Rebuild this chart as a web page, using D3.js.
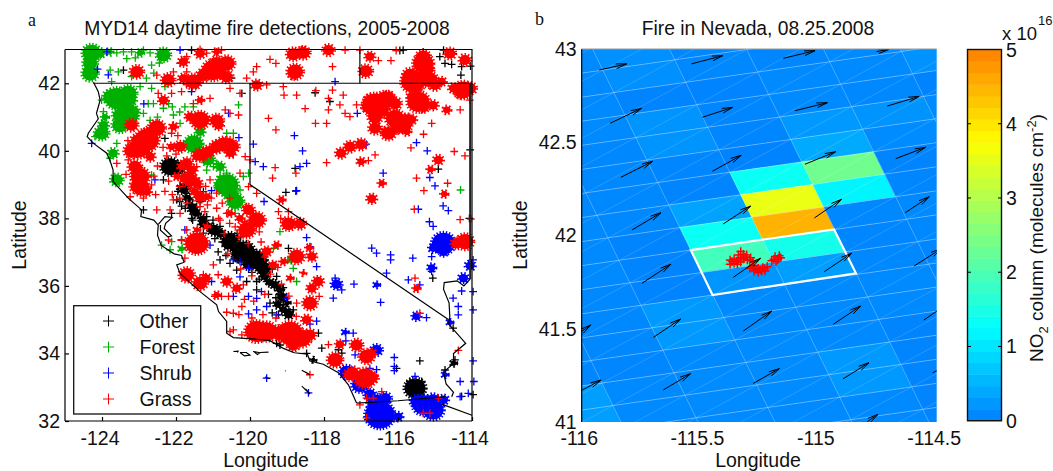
<!DOCTYPE html>
<html><head><meta charset="utf-8">
<script src="https://cdnjs.cloudflare.com/ajax/libs/d3/7.8.5/d3.min.js"></script>
<style>html,body{margin:0;padding:0;background:#fff}svg{display:block}text{font-family:"Liberation Sans",Arial,sans-serif;fill:#111}</style>
</head><body><svg id="c" width="1053" height="471"></svg>
<script>
// ---------- panel a : geography (lon, lat)
const coast=[[-124.23,42.03],[-124.1,41.75],[-124.05,41.5],[-124.15,41.11],[-124.1,40.95],[-124.37,40.52],[-124.4,40.42],[-124.23,40.22],[-123.87,39.93],[-123.78,39.7],[-123.7,39.43],[-123.7,39.09],[-123.29,38.6],[-122.93,38.25],[-122.95,38.05],[-122.6,37.95],[-122.48,37.8],[-122.5,37.5],[-122.4,37.2],[-122.05,36.95],[-121.85,36.9],[-121.78,36.7],[-121.98,36.62],[-121.89,36.37],[-121.35,35.83],[-120.9,35.44],[-120.85,35.24],[-120.63,34.95],[-120.63,34.6],[-120.45,34.47],[-119.82,34.42],[-119.46,34.38],[-119.1,34.15],[-118.8,34.02],[-118.45,33.98],[-118.38,33.78],[-118.02,33.68],[-117.61,33.43],[-117.34,33.07],[-117.25,32.85],[-117.12,32.53]];
const bay=[[-122.48,37.82],[-122.38,37.95],[-122.3,38.05],[-122.1,38.03],[-122.28,37.85],[-122.32,37.7],[-122.12,37.48],[-122.22,37.45],[-122.42,37.65],[-122.42,37.8]];
const borderCA_OR=[[-124.23,42.0],[-114.0,42.0]];
const borderNV_ID=[[-117.03,43],[-117.03,42]];
const borderNV_CA=[[-120,42],[-120,39],[-114.63,35.0]];
const borderNV_UT=[[-114.05,42],[-114.05,36.2]];
const colorado=[[-114.05,36.2],[-114.22,36.0],[-114.4,36.15],[-114.75,36.1],[-114.77,35.9],[-114.62,35.5],[-114.6,35.1],[-114.63,34.87],[-114.17,34.3],[-114.5,34.0],[-114.5,33.7],[-114.77,33.45],[-114.7,33.1],[-114.5,32.85],[-114.55,32.72]];
const borderMexico=[[-117.12,32.53],[-116,32.6],[-114.72,32.72]];
const borderAZ=[[-114.82,32.5],[-114,32.17]];
const islands=[[[-120.45,34.06],[-120.32,34.07],[-120.34,34.03]],[[-120.27,34.03],[-120.1,34.03],[-120,33.95],[-120.15,33.93],[-120.27,34.03]],[[-119.91,34.06],[-119.73,34.02],[-119.8,33.97],[-119.91,34.06]],[[-119.73,34.03],[-119.5,34.04]],[[-119.6,33.3],[-119.46,33.25]],[[-118.6,33.5],[-118.38,33.37],[-118.5,33.45]],[[-118.6,33.03],[-118.38,32.8],[-118.5,32.95]],[[-119.05,33.49],[-119.03,33.48]]];
// ---------- panel a : densely burned clusters [lon, lat, radius in degrees]
const blobOther=[[-115.54,32.97,.23],[-122.16,39.53,.2],[-121.94,39.48,.15],[-121.8,38.89,.12],[-121.53,38.25,.1],[-121.26,37.85,.1],[-120.99,37.66,.12],[-120.18,37,.25],[-119.82,36.77,.22],[-120.54,37.36,.17],[-119.64,36.52,.15],[-119.14,35.68,.1],[-118.96,35.16,.1],[-119.32,36.03,.09],[-114.5,33.71,.06],[-118.29,33.81,.05],[-121.7,38.6,.08],[-121.6,38.4,.07],[-121.45,38.15,.08],[-121.3,38,.07],[-121.1,37.75,.08],[-120.8,37.55,.1],[-120.6,37.2,.1],[-120.4,37.15,.12],[-120.35,36.85,.1],[-120.05,36.65,.12],[-119.6,36.3,.1],[-119.45,36.1,.08],[-119.2,35.9,.08],[-119.25,35.45,.08],[-119.1,35.3,.08],[-119,35.5,.06]];
const blobForest=[[-123.6,41.55,.25],[-123.29,41.7,.18],[-123.33,41.06,.25],[-123.51,40.76,.17],[-124.28,42.89,.2],[-124.32,42.29,.17],[-124.32,42.59,.15],[-124.05,42.89,.1],[-123.8,42.93,.07],[-123.96,40.76,.1],[-123.92,41,.07],[-124.01,40.52,.15],[-121.53,40.2,.2],[-121.35,40.57,.1],[-120.63,38.99,.25],[-120.4,38.5,.18],[-122.34,42.84,.15],[-122.97,42.9,.07],[-123.7,39.93,.1],[-123.6,39.14,.13],[-121.85,37.1,.06],[-118.92,36.77,.07],[-121.13,39.73,.13],[-120.81,39.53,.1],[-123.78,41.6,.15],[-123.42,41.5,.15],[-123.2,41.5,.1],[-123.56,41.06,.12],[-123.15,41.16,.12],[-120.54,38.74,.15],[-120.81,38.94,.1]];
const blobShrub=[[-116.49,32.18,.32],[-116.58,32.53,.2],[-116.35,32.67,.13],[-116.76,32.78,.12],[-115.32,32.48,.23],[-115.05,32.33,.23],[-115.05,32.63,.13],[-115.5,32.58,.13],[-114.77,32.63,.1],[-114.77,37.26,.25],[-114.77,37.02,.1],[-115.05,37.12,.09],[-114.23,36.23,.1],[-114.05,36.6,.1],[-116.58,34.1,.12],[-117.66,36.05,.11],[-116.58,36.03,.06],[-115.5,35.1,.09],[-114.6,34.92,.06],[-117.43,34.63,.06],[-117.39,33.45,.15],[-117.03,33.07,.17],[-114.73,33.37,.06],[-115.09,36.54,.08],[-115.99,32.13,.09]];
const blobGrass=[[-122.52,40.67,.18],[-122.79,40.32,.26],[-123.02,40.07,.22],[-121.35,40.91,.2],[-120.9,40.9,.14],[-121.35,39.88,.14],[-120.9,40.12,.14],[-120.58,40.17,.17],[-121.89,40.12,.12],[-122.97,39.24,.2],[-122.93,38.89,.17],[-120.99,42.39,.24],[-120.63,42.59,.17],[-121.53,42.05,.17],[-121.26,42.24,.14],[-122.21,42.1,.14],[-123.06,42.34,.14],[-122.34,41.5,.1],[-122.07,40.71,.08],[-121.62,39.14,.16],[-121.71,39.63,.12],[-121.35,38.64,.12],[-119.82,37.95,.18],[-120.04,38.25,.12],[-120.09,37.66,.18],[-118.83,42.86,.14],[-118.56,42.9,.14],[-117.88,42.98,.12],[-118.78,42.34,.17],[-116.87,42.36,.14],[-116.76,42.79,.1],[-115.32,42.59,.22],[-115.59,42.05,.26],[-115.14,42.1,.17],[-114.24,41.8,.2],[-114.5,41.85,.1],[-114.19,42.69,.12],[-114.6,42.88,.12],[-115.45,41.45,.24],[-115.05,41.35,.1],[-116.62,41.36,.27],[-116.35,41.5,.2],[-116.62,41,.15],[-116.08,41.4,.13],[-116.08,40.96,.2],[-115.86,40.76,.18],[-116.26,40.52,.15],[-116.62,40.67,.13],[-115.63,40.93,.1],[-114.68,41.21,.08],[-117,40.19,.12],[-117.3,40.12,.12],[-117.54,39.93,.11],[-117,39.68,.08],[-114.91,39.73,.1],[-115.12,39.45,.07],[-116.44,39.04,.07],[-116.71,38.58,.1],[-118.96,37.84,.15],[-118.65,37.84,.12],[-119.15,38.55,.07],[-114.75,38.72,.07],[-118.74,36.87,.16],[-118.33,36.87,.1],[-118.16,36.13,.11],[-118.33,35.93,.1],[-118.38,35.49,.15],[-118.47,35,.1],[-118.92,34.6,.27],[-119.55,34.65,.22],[-118.6,34.45,.2],[-118.38,34.55,.12],[-117.7,33.81,.16],[-117.57,34.27,.09],[-117.12,34.25,.13],[-116.85,33.91,.16],[-117.3,33.37,.13],[-116.89,33.27,.23],[-114.19,37.31,.18],[-114.41,37.26,.12],[-115.5,35.93,.07],[-121.44,37.26,.25],[-121.71,36.33,.16],[-121.35,36.08,.15],[-119.82,34.65,.25],[-120.63,36.13,.1],[-120.36,35.93,.09],
[-123.2,40.76,.13],[-123.2,40,.16],[-122.7,39.83,.1],[-123.11,39.53,.14],[-123.06,38.94,.14],[-122.79,38.79,.09],[-122.12,40.12,.08],[-121.62,41.01,.1],[-120.85,40.76,.1],[-121.13,39.97,.13],[-121.44,39.83,.09],[-120.72,40.22,.14],[-120.45,40.12,.12],[-120.54,39.93,.09],[-121.85,39.53,.08],[-121.58,39.43,.11],[-121.76,39.19,.12],[-121.44,39.04,.11],[-121.98,39.24,.07],[-121.49,38.79,.09],[-121.17,38.64,.08],[-120.27,38,.08],[-120.54,38.15,.07],[-121.17,37.76,.06],[-121.44,37.66,.06],[-121.8,42.64,.1],[-120.63,42.19,.13],[-120.9,42.59,.15],[-121.35,42.88,.1],[-120.9,42.93,.07],[-121.8,42.14,.1],[-119.82,41.95,.11],[-121.35,41.5,.07],[-120.9,35.73,.07],[-121.17,36.23,.08],[-119.55,37.02,.1],[-119.28,37.21,.07],[-119.37,36.62,.08],[-119.1,36.72,.07],[-118.92,36.23,.06],[-118.56,36.38,.05],[-118.4,37.13,.07],[-119.19,34.6,.17],[-118.83,34.25,.13],[-117.21,33.47,.1],[-116.67,33.27,.1],[-116.71,34,.09],
[-115.32,42.78,.15],[-115.23,42.39,.15],[-115.68,42.24,.15],[-115.5,41.95,.13],[-115,41.95,.12],[-114.82,42.05,.09],[-114.05,41.85,.13],[-114.32,41.7,.1],[-115.63,41.6,.1],[-115.32,41.3,.12],[-116.26,41.6,.12],[-116.76,41.5,.12],[-116.85,41.3,.1],[-116.4,41.16,.12],[-115.76,40.96,.1],[-116.04,40.67,.12],[-115.76,40.57,.08],[-116.35,40.57,.08],[-118.56,42.93,.1],[-118.83,42.24,.08],[-122.7,40.52,.15],[-122.88,40.07,.15],[-123.06,40.32,.12]];
// ---------- panel a : individual detections [lon, lat]
const firesOther=[[-118.24,41.72],[-118.78,39.48],[-119.03,38.77],[-118.76,38.81],[-114.91,39.46],[-115.95,42.97],[-115.86,42.98],[-115.32,42.93],[-114.87,42.79],[-114.73,42.59],[-114.55,42.56],[-114.28,42.49],[-114.04,42.51],[-114.3,42.24],[-114.05,40.03],[-114.77,42.98],[-114.51,42.88],[-114.07,38],[-117.84,41.46],[-122.3,40.37],[-121.8,42.1],[-121.44,41.95],[-120.22,41.7],[-120.5,42.15],[-121.58,42.98],[-123.42,42.39],[-122.88,38.25],[-122.12,38.15],[-121.98,38.55],[-121.85,38.36],[-121.35,38.94],[-121.26,38.79],[-121.62,38.55],[-121.44,38.35],[-121.58,38],[-121.17,38.05],[-120.81,37.76],[-121.71,38.74],[-122.34,39.14],[-121.26,37.56],[-121.85,37.36],[-120.86,37.01],[-120.81,36.77],[-120.54,36.67],[-120.36,36.47],[-120.09,36.13],[-119.82,36.13],[-119.82,35.88],[-118.96,37.11],[-119.55,36.13],[-119.28,36.28],[-119.46,35.49],[-119.1,35.44],[-119.23,35.14],[-118.83,35.29],[-118.15,34.6],[-118.06,34.16],[-118.47,34],[-117.61,34.11],[-117.52,34.01],[-116.04,33.56],[-115.41,33.78],[-115.06,36.23],[-114.51,34.75],[-114.73,33.51],[-114.46,33.81],[-113.97,32.78],[-114.28,32.73],[-115.68,33.17],[-115.36,33.17],[-119.28,34.3],[-119.19,34.25],
[-121.95,38.8],[-121.9,38.5],[-121.75,38.3],[-121.35,38.5],[-121.55,37.95],[-121,37.95],[-120.95,37.4],[-120.75,37.3],[-120.25,37.45],[-120.65,36.9],[-120.1,36.95],[-119.95,36.4],[-119.75,36.2],[-119.4,36.5],[-119.1,35.95],[-119.5,35.75],[-119.3,35.65],[-118.95,35.3],[-119.4,35.2],[-120.35,37.55]];
const firesForest=[[-123.42,42.93],[-123.2,42.93],[-122.88,42.98],[-123.33,42.73],[-122.66,42.54],[-123.78,42.39],[-123.56,42.34],[-123.74,42.05],[-122.8,42.15],[-122.97,41.9],[-122.66,41.85],[-122.75,41.4],[-122.34,41.26],[-122.07,41.06],[-121.76,41.3],[-121.53,41.3],[-121.89,40.81],[-122.88,41.11],[-122.61,41.4],[-124.01,41.5],[-123.96,41.16],[-124.19,40.42],[-123.78,39.78],[-122.66,39.29],[-123.6,40.22],[-121.17,39.43],[-120.9,39.63],[-120.99,39.53],[-120.63,39.34],[-120.45,40.52],[-120.63,40.52],[-120.31,41.36],[-120.18,39.24],[-120.04,39.34],[-121.26,40.03],[-120.27,38.84],[-120.4,38.15],[-120.81,39.24],[-122.39,37.21],[-122.12,37.31],[-122.16,37.07],[-114.31,38.84],[-118.74,36.13],[-118.83,36.52],[-119.37,37.11],[-119.19,37.61],[-123.6,42.9],[-123.1,42.75],[-122.7,42.9],[-122.45,42.6],[-123.2,42.2],[-122.6,42.3],[-122.3,41.9],[-122.2,41.4],[-122.5,41],[-122.1,41.3],[-121.9,41.15],[-122.7,40.9]];
const firesShrub=[[-116.71,37.12],[-116.58,36.97],[-116.2,36.92],[-116.2,36.77],[-115.6,36.82],[-116.31,36.38],[-115.72,36.18],[-115.41,36.03],[-115.09,36.87],[-115.09,36.43],[-117.19,36.05],[-117.75,35.64],[-116.47,35.51],[-115.23,35.06],[-114.51,35.64],[-114.37,35.39],[-114.37,35.14],[-113.97,35.29],[-113.97,35.83],[-114.28,35.85],[-113.97,36.77],[-113.97,33.78],[-113.95,33.17],[-114.32,33.17],[-116.1,33.88],[-116.1,33.62],[-116.1,33.49],[-116.58,33.52],[-116.76,33.56],[-117.21,34.6],[-117.41,34.37],[-117.16,33.96],[-118.2,36.57],[-118.47,37.43],[-118.38,37.16],[-118.2,34.96],[-118.38,34.87],[-119.55,33.27],[-118.42,32.83],[-116.04,32.09],[-115.54,33.32],[-114.1,32.82],[-114.32,32.72],[-117.7,36.23],[-117.52,35.88],[-119.55,35.39],[-119.69,35.83],[-119.28,35.14],[-119.01,35.64],[-118.8,40.45],[-118.58,40],[-116.86,40.2],[-116.4,39.34],[-115.5,40.24],[-115.21,40],[-115.14,39.21],[-115,38.96],[-114.78,38.37],[-114.64,38.23],[-115.15,37.9],[-115.05,37.76],[-118.65,39.53],[-118.47,39.63],[-118.74,38.82],[-119.64,39.53],[-119.62,38.5],[-115.45,38.27],[-117.1,41.11],[-117.7,42.05],[-123.83,42.25],[-124.12,42.42],[-122.87,41.39],[-124.28,40.22],[-121.58,41.75],[-120.58,41.11],[-120.3,40.39],[-119.91,40.2],[-119.86,39.68],[-121.04,38.82],[-122.57,39.14],[-121.76,37.66],[-123.87,42.93],[-121.89,42.98],[-121.08,37.21],[-120.45,36.77],[-120.27,36.72],[-120.04,36.52],[-121.04,36.13],[-120.04,35.69],[-119.82,35.63],[-119.82,35.29],[-120.04,35.17],[-120.45,35.69],[-120.27,36.27]];
const firesGrass=[[-120.27,41.7],[-120.54,41.85],[-120.54,41.11],[-120.31,41.06],[-121.08,41.55],[-121.31,41.5],[-120.67,41.21],[-122.48,41.7],[-122.12,41.7],[-121.85,41.75],[-121.53,41.4],[-121.71,41.95],[-122.07,40.77],[-122.12,40.52],[-123.29,39.73],[-123.6,39.63],[-122.66,38.99],[-122.88,38.6],[-123.24,38.64],[-122.52,38.25],[-122.16,38.25],[-121.89,38.15],[-121.22,38.2],[-120.9,38.3],[-120.63,38.15],[-120.81,37.95],[-121.35,38.35],[-121.71,37.66],[-121.08,39.14],[-121.44,39.53],[-121.26,39.73],[-122.07,38.55],[-119.82,38.74],[-119.91,38.15],[-120.09,38.35],[-120,39.73],[-120.13,39.83],[-120.45,39.88],[-120.27,39.34],[-120.04,38.94],[-120.77,42.98],[-121.35,43],[-121.17,42.89],[-120.9,42.93],[-121.71,42.79],[-121.89,42.59],[-122.07,42.34],[-121.71,42.34],[-119.91,42.34],[-119.82,42.49],[-120.09,42.15],[-122.52,42.24],[-119.46,42.71],[-119.3,42.59],[-116.53,42.67],[-116.19,42.67],[-116.05,42.97],[-117.77,42.49],[-117.43,42.98],[-117.03,42.98],[-119.1,41.9],[-119.55,41.95],[-119.08,41.65],[-118.74,41.65],[-118.51,41.25],[-118.22,41.78],[-117.88,41.55],[-117.77,41.8],[-117.57,41.36],[-117.43,41.11],[-117.3,41.01],[-117.48,41.65],[-117.12,41.36],[-117.88,41.21],[-117.93,40.81],[-118.23,40.81],[-119.5,40.96],[-119.3,40.62],[-117.93,39.65],[-119.32,39.5],[-119.39,39.19],[-118.76,39.34],[-116.62,39.88],[-116.8,39.71],[-115.31,40.49],[-115.09,40.81],[-115.65,40.09],[-114.48,39.98],[-114.19,39.85],[-114.32,41.21],[-114.06,41.5],[-115.5,39.19],[-114.66,39.04],[-115.3,38.82],[-115.56,38.27],[-114.32,37.96],[-114.03,37.98],[-119.23,38.2],[-118.96,38.2],[-119.17,38],[-115.54,36.23],[-115.41,35.19],[-114.37,34.09],[-116.62,33.32],[-116.85,32.68],[-116.67,32.68],[-116.85,32.09],[-117.03,32.48],[-116.44,32.87],[-115.32,32.23],[-115.14,32.23],[-114.91,32.68],[-118.38,33.37],[-117.88,34.26],[-118.74,35.49],[-118.13,35.69],[-120.45,35.19],[-120.63,35.22],[-120.45,34.7],[-120.22,35.39],[-120.22,34.55],[-120.54,34.65],[-120.86,36.33],[-120.95,35.69],[-120.77,35.69],[-120.58,35.69],[-120.99,36.62],[-121.76,36.82],[-122.2,37.36],[-121.85,37.36],[-121.26,37.16],[-121.26,36.33],[-120.18,36.03],
[-122.2,39.1],[-122.3,38.8],[-122.1,38.7],[-121.9,38.6],[-121.7,38.45],[-121.9,38.95],[-121.6,38.9],[-121.2,38.95],[-121.05,38.6],[-120.9,38.75],[-120.75,38.45],[-120.55,38.6],[-121.15,38.4],[-120.85,38],[-120.55,37.85],[-120.4,37.75],[-120.7,37.55],[-120.3,37.45],[-120.15,37.9],[-119.75,37.6],[-119.7,37.3],[-120.05,37.25],[-120.6,36.95],[-120.25,36.5],[-119.95,36.3],[-119.6,36.85],[-119.45,36.35],[-119.25,36.55],[-119.15,36.05],[-118.95,35.7],[-119.6,35.75],[-119.9,35.55],[-120.15,35.6],[-120.3,35.15],[-119.95,35.05],[-119.65,35.15],[-119.3,35.05],[-118.75,35.1],[-121.95,40.45],[-122.25,39.85],[-122,39.9],[-122.5,39.55],[-122.6,39.25],[-122.55,38.7],[-123.35,39.3],[-123.3,40.3],[-122.35,40.1]];
const legendNames=["Other","Forest","Shrub","Grass"];
const legendColors=["#000","#00b000","#0000ff","#ff0000"];
// ---------- panel b
const no2Cols=[-3,-2,-1,0,1,2,3,4,5];
const no2Rows=[-9,-8,-7,-6,-5,-4,-3,-2,-1,0,1,2,3,4,5,6,7,8];
const no2Values=[
[.08,.08,.1,.16,.08,.06,.1,.22,.22],
[.08,.08,.1,.16,.08,.06,.1,.22,.22],
[.1,.1,.1,.04,.04,.1,.1,.18,.2],
[.1,.1,.1,.2,.06,.1,.08,.03,.03],
[.1,.1,.08,.2,.06,.25,.2,.1,.1],
[.1,.08,.08,.06,.03,.42,.12,.08,.1],
[.08,.08,.08,.05,1.35,2.35,.05,.08,.1],
[.1,.1,.08,.35,3.55,1.15,.06,.1,.1],
[.1,.1,.05,1.35,4.5,.08,.1,.1,.1],
[.1,.1,.05,1.9,1.45,.06,.08,.1,.1],
[.1,.08,.04,.22,.3,.08,.06,.1,.1],
[.1,.08,.25,.1,.1,.1,.06,.1,.1],
[.1,.08,.25,.1,.1,.1,.06,.1,.1],
[.06,.06,.1,.12,.1,.05,.05,.1,.1],
[.3,.1,.12,.12,.25,.05,.05,.1,.1],
[.3,.1,.12,.12,.25,.05,.05,.1,.1],
[.1,.08,.1,.1,.1,.05,.05,.1,.1],
[.1,.08,.1,.1,.1,.05,.05,.1,.1]];
const gridOrigin=[-115.539,41.922], gridU=[.304,.0552], gridV=[.0465,-.1206];
const plumeBox=[[-115.539,41.922],[-114.934,42.033],[-114.841,41.797],[-115.447,41.681]];
const windArrows=[[-115.926,42.887,-115.81,42.92],[-115.537,42.92,-115.404,42.964],[-115.148,42.95,-115.014,42.991],[-114.754,42.986,-114.702,42.998],[-115.88,42.602,-115.747,42.682],[-115.49,42.634,-115.362,42.687],[-115.099,42.669,-114.962,42.712],[-114.709,42.694,-114.574,42.746],[-115.834,42.312,-115.7,42.398],[-115.448,42.344,-115.326,42.43],[-115.057,42.382,-114.927,42.449],[-114.673,42.412,-114.547,42.473],[-115.787,42.03,-115.665,42.122],[-115.402,42.062,-115.286,42.158],[-115.017,42.094,-114.902,42.194],[-114.633,42.122,-114.531,42.208],[-115.745,41.744,-115.623,41.846],[-115.359,41.776,-115.244,41.878],[-114.975,41.806,-114.859,41.905],[-114.596,41.836,-114.48,41.93],[-116.045,41.445,-115.962,41.52],[-115.697,41.454,-115.582,41.552],[-115.317,41.488,-115.197,41.595],[-114.937,41.524,-114.821,41.622],[-114.554,41.547,-114.444,41.643],[-116.037,41.145,-115.918,41.225],[-115.655,41.172,-115.54,41.259],[-115.275,41.207,-115.165,41.286],[-114.896,41.231,-114.786,41.318],[-114.517,41.264,-114.411,41.332],[-114.793,41.002,-114.748,41.041]];
const nevadaFires=[[-115.373,41.869],[-115.373,41.846],[-115.356,41.874],[-115.356,41.851],[-115.338,41.896],[-115.328,41.914],[-115.338,41.869],[-115.317,41.899],[-115.317,41.874],[-115.303,41.896],[-115.3,41.869],[-115.286,41.881],[-115.277,41.86],[-115.289,41.824],[-115.272,41.839],[-115.272,41.81],[-115.254,41.824],[-115.254,41.803],[-115.235,41.828],[-115.225,41.81],[-115.216,41.833],[-115.197,41.864],[-115.183,41.887],[-115.169,41.878],[-115.179,41.86],[-115.159,41.881],[-115.342,41.846],[-115.239,41.81],
[-115.365,41.86],[-115.347,41.862],[-115.328,41.882],[-115.328,41.858],[-115.31,41.885],[-115.29,41.868],[-115.28,41.835],[-115.263,41.818],[-115.245,41.815],[-115.228,41.822],[-115.172,41.87],[-115.188,41.872],[-115.165,41.892]];
// ---------- ticks and labels
const lonTicksA=[-124,-122,-120,-118,-116,-114], latTicksA=[32,34,36,38,40,42];
const lonTicksB=[-116,-115.5,-115,-114.5], latTicksB=[41,41.5,42,42.5,43];
const cbTicks=[0,1,2,3,4,5];
const fs=19.5;
const clusterScale=1.25;
const svg=d3.select("#c");
const defs=svg.append("defs");
// scales
const xA=d3.scaleLinear().domain([-125,-114]).range([65,472]);
const yA=d3.scaleLinear().domain([32,43]).range([421,49.5]);
const xB=d3.scaleLinear().domain([-116,-114.5]).range([581.7,936.7]);
const yB=d3.scaleLinear().domain([41,43]).range([422,49]);
const color=d3.scaleLinear().domain([0,1.25,3.75,5]).range(["#0080ff","#00ffff","#ffff00","#ff8000"]).clamp(true);
const yC=d3.scaleLinear().domain([0,5]).range([420.7,49.5]);
const line=(x,y)=>d3.line().x(d=>x(d[0])).y(d=>y(d[1]));
const crossPath=(cx,cy,h)=>`M${cx-h},${cy}H${cx+h}M${cx},${cy-h}V${cy+h}`;
// ---- Panel A
const pa=svg.append("g");
const lA=line(xA,yA);
const layers=[[blobOther,firesOther,legendColors[0]],[blobForest,firesForest,legendColors[1]],[blobShrub,firesShrub,legendColors[2]],[blobGrass,firesGrass,legendColors[3]]];
const rxOf=d=>clusterScale*(xA(d[0]+d[2])-xA(d[0])), ryOf=d=>clusterScale*(yA(d[1])-yA(d[1]+d[2]));
layers.forEach(([bl,fr,col])=>{
  const g=pa.append("g");
  g.selectAll("ellipse").data(bl).join("ellipse")
    .attr("cx",d=>xA(d[0])).attr("cy",d=>yA(d[1]))
    .attr("rx",rxOf).attr("ry",ryOf).attr("fill",col)
    .attr("stroke",col).attr("stroke-width",4).attr("stroke-dasharray","1.3 1.7");
  g.selectAll("path.f").data(fr).join("path").attr("class","f").attr("fill","none").attr("stroke",col).attr("stroke-width",1.3)
    .attr("d",d=>crossPath(xA(d[0]),yA(d[1]),3.9));
});
const borders=pa.append("g").attr("fill","none").attr("stroke","#000").attr("stroke-width",1.2);
[coast,bay,borderCA_OR,borderNV_ID,borderNV_CA,colorado,borderMexico,borderAZ].forEach(s=>borders.append("path").attr("d",lA(s)));
pa.append("path").attr("d",lA(borderNV_UT)).attr("fill","none").attr("stroke","#222").attr("stroke-width",2);
islands.forEach(s=>borders.append("path").attr("d",lA(s)).attr("stroke-width",1.1));
// frame + axes A
const axisStyle=(g)=>{g.selectAll("text").style("font-size",fs+"px").style("font-family",'"Liberation Sans",Arial,sans-serif').attr("fill","#111");g.selectAll("path,line").attr("stroke","#000").attr("stroke-width",1.2);};
const plain=d=>String(d);
pa.append("g").attr("transform","translate(0,421)").call(d3.axisBottom(xA).tickValues(lonTicksA).tickSize(-4).tickPadding(10).tickFormat(plain)).call(axisStyle).call(g=>g.selectAll("text").attr("dx",-2.5)).select(".domain").attr("d","M65,0H472");
pa.append("g").attr("transform","translate(65,0)").call(d3.axisLeft(yA).tickValues(latTicksA).tickSize(-4).tickPadding(5).tickFormat(plain)).call(axisStyle).select(".domain").attr("d","M0,49.5V421");
pa.append("path").attr("d","M65,49.5H472V421").attr("fill","none").attr("stroke","#000").attr("stroke-width",1.2);
// legend
const lg=pa.append("g");
lg.append("rect").attr("x",73.7).attr("y",305.7).attr("width",127).attr("height",108.3).attr("fill","#fff").attr("stroke","#111").attr("stroke-width",1.3);
const legendY=d3.scalePoint().domain(legendNames).range([321,399]);
legendNames.forEach((n,i)=>{
  lg.append("path").attr("d",crossPath(108.5,legendY(n),5.5)).attr("stroke",legendColors[i]).attr("stroke-width",1).attr("fill","none");
  lg.append("text").attr("x",139.5).attr("y",legendY(n)+6.5).style("font-size",fs+"px").text(n);
});
const txt=(x,y,s,size,anchor,extra)=>{const t=svg.append("text").attr("x",x).attr("y",y).attr("text-anchor",anchor||"middle").style("font-size",(size||fs)+"px").text(s);if(extra)extra(t);return t;};
txt(267,35,"MYD14 daytime fire detections, 2005-2008",19.3);
txt(758,35,"Fire in Nevada, 08.25.2008",19.3);
txt(266,467,"Longitude");
txt(758,467,"Longitude");
svg.append("text").attr("transform","translate(26,235) rotate(-90)").attr("text-anchor","middle").style("font-size",fs+"px").text("Latitude");
svg.append("text").attr("transform","translate(527,235) rotate(-90)").attr("text-anchor","middle").style("font-size",fs+"px").text("Latitude");
txt(28,26,"a",18,"start",t=>t.style("font-family","'Liberation Serif',serif"));
txt(535,25,"b",18,"start",t=>t.style("font-family","'Liberation Serif',serif"));
// ---- Panel B
defs.append("clipPath").attr("id","bClip").append("rect").attr("x",581.7).attr("y",49).attr("width",355).attr("height",373);
const pb=svg.append("g").attr("clip-path","url(#bClip)");
const gp=(i,j)=>[gridOrigin[0]+i*gridU[0]+j*gridV[0],gridOrigin[1]+i*gridU[1]+j*gridV[1]];
const lB=line(xB,yB);
const cells=[];
no2Rows.forEach((j,r)=>no2Cols.forEach((i,c)=>cells.push({i,j,v:no2Values[r][c]})));
pb.selectAll("path.cell").data(cells).join("path").attr("class","cell")
  .attr("d",d=>lB([gp(d.i,d.j),gp(d.i+1,d.j),gp(d.i+1,d.j+1),gp(d.i,d.j+1)])+"Z")
  .attr("fill",d=>color(d.v)).attr("stroke",d=>color(d.v)).attr("stroke-width",.4);
const gl=pb.append("g").attr("fill","none").attr("stroke","#fff");
no2Rows.concat([9]).forEach(j=>gl.append("path").attr("d",lB([gp(-3,j),gp(6,j)])).attr("stroke-opacity",.35).attr("stroke-width",.9));
no2Cols.concat([6]).forEach(i=>gl.append("path").attr("d",lB([gp(i,-9),gp(i,9)])).attr("stroke-opacity",.3).attr("stroke-width",.7));
cells.forEach(c=>gl.append("path").attr("d",lB([gp(c.i,c.j+1),gp(c.i+1,c.j)])).attr("stroke-opacity",.22).attr("stroke-width",.7));
pb.append("path").attr("d",lB(plumeBox)+"Z").attr("fill","none").attr("stroke","#fff").attr("stroke-width",2.2);
pb.append("g").attr("fill","none").attr("stroke","#ff0000").attr("stroke-width",1.5).selectAll("path").data(nevadaFires).join("path").attr("d",d=>crossPath(xB(d[0]),yB(d[1]),4.3));
pb.append("g").attr("fill","none").attr("stroke","#000").attr("stroke-width",1).selectAll("path").data(windArrows).join("path").attr("d",d=>{
  const x0=xB(d[0]),y0=yB(d[1]),x1=xB(d[2]),y1=yB(d[3]),a=Math.atan2(y1-y0,x1-x0),L=11,s=.22;
  return `M${x0},${y0}L${x1},${y1}M${x1-L*Math.cos(a-s)},${y1-L*Math.sin(a-s)}L${x1},${y1}L${x1-L*Math.cos(a+s)},${y1-L*Math.sin(a+s)}`;});
// axes B
svg.append("g").attr("transform","translate(0,422)").call(d3.axisBottom(xB).tickValues(lonTicksB).tickSize(0).tickPadding(9).tickFormat(plain)).call(axisStyle).call(g=>g.selectAll("text").attr("dx",-3)).select(".domain").remove();
svg.append("g").attr("transform","translate(581.7,0)").call(d3.axisLeft(yB).tickValues(latTicksB).tickSize(0).tickPadding(5).tickFormat(plain)).call(axisStyle).select(".domain").attr("d","M0,49V422");
svg.append("path").attr("d","M581.7,49H936.7").attr("stroke","#999").attr("stroke-width",1);
// ---- Colorbar
const cbx=967.5,cbw=34;
const bands=d3.range(0,5,5/32);
svg.selectAll("rect.band").data(bands).join("rect").attr("class","band").attr("x",cbx).attr("width",cbw)
  .attr("y",d=>yC(d+5/32)).attr("height",d=>yC(d)-yC(d+5/32)+.5).attr("fill",d=>color(d+2.5/32));
svg.append("rect").attr("x",cbx).attr("y",49.5).attr("width",cbw).attr("height",371.2).attr("fill","none").attr("stroke","#111").attr("stroke-width",1.4);
const cb=svg.append("g");
cb.selectAll("path").data(cbTicks.slice(1,5)).join("path").attr("d",d=>`M${cbx},${yC(d)}h3.5M${cbx+cbw},${yC(d)}h-3.5`).attr("stroke","#000").attr("stroke-width",1);
cbTicks.forEach(d=>txt(1006,yC(d)+7,d,fs,"start"));
txt(1002,40,"x 10",18.5,"start");
txt(1038,25,"16",13,"start");
const yl=svg.append("text").attr("transform","translate(1043,238) rotate(-90)").attr("text-anchor","middle").style("font-size",fs-.5+"px");
yl.append("tspan").text("NO");
yl.append("tspan").attr("dy",5).style("font-size","13px").text("2");
yl.append("tspan").attr("dy",-5).text(" column (molecules cm");
yl.append("tspan").attr("dy",-7).style("font-size","13px").text("-2");
yl.append("tspan").attr("dy",7).text(")");
</script></body></html>
